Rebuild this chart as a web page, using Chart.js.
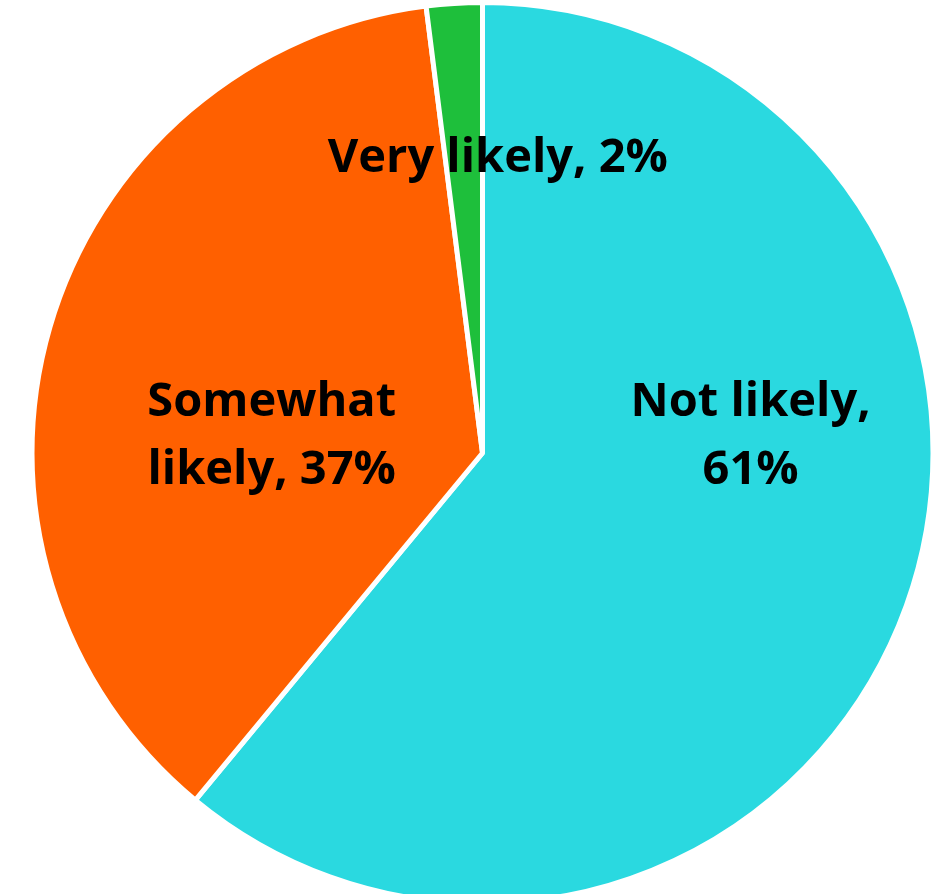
<!DOCTYPE html>
<html>
<head>
<meta charset="utf-8">
<script src="https://cdn.jsdelivr.net/npm/chart.js@4.4.1/dist/chart.umd.min.js"></script>
<style>
    html, body { margin: 0; padding: 0; background: #ffffff; overflow: hidden; }
    #wrap { width: 949px; height: 894px; position: relative; overflow: hidden; }
    #inner { width: 949px; height: 906px; position: absolute; left: 0; top: 0; }
</style>
</head>
<body>
<div id="wrap"><div id="inner"><canvas id="pie-chart"></canvas></div></div>
<script>
// Datos del gráfico
const categories = ['Not likely', 'Somewhat likely', 'Very likely'];
const values = [61, 37, 2];
const sliceColors = ['#2AD9E0', '#FF6000', '#1EBF3B'];

// Posición de cada etiqueta (fracción del radio desde el centro) y cortes de línea
const labelSpots = [
    { dx: 0.595, dy: -0.036, lines: ['Not likely,', '61%'] },
    { dx: -0.468, dy: -0.036, lines: ['Somewhat', 'likely, 37%'] },
    { dx: 0.034, dy: -0.654, lines: ['Very likely, 2%'] }
];

// Plugin para dibujar las etiquetas dentro de las porciones
const sliceLabels = {
    id: 'sliceLabels',
    afterDatasetsDraw(chart) {
        const ctx = chart.ctx;
        const arc = chart.getDatasetMeta(0).data[0];
        const cx = arc.x, cy = arc.y, r = arc.outerRadius;
        ctx.save();
        ctx.fillStyle = '#000000';
        ctx.font = 'bold 47px "Open Sans", "Noto Sans", sans-serif';
        ctx.textAlign = 'center';
        ctx.textBaseline = 'middle';
        labelSpots.forEach(spot => {
            const x = cx + spot.dx * r;
            const y = cy + spot.dy * r;
            const gap = 68;
            const top = y - (spot.lines.length - 1) * gap / 2;
            spot.lines.forEach((line, i) => ctx.fillText(line, x, top + i * gap));
        });
        ctx.restore();
    }
};

const ctx1 = document.getElementById('pie-chart').getContext('2d');
const pieChart = new Chart(ctx1, {
    type: 'pie',
    data: {
        labels: categories,
        datasets: [{
            data: values,
            backgroundColor: sliceColors,
            borderColor: '#ffffff',
            borderWidth: 5
        }]
    },
    options: {
        responsive: true,
        maintainAspectRatio: false,
        animation: false,
        layout: { padding: { left: 16, right: 0, top: 0, bottom: 0 } },
        plugins: {
            legend: { display: false },
            tooltip: { enabled: false }
        }
    },
    plugins: [sliceLabels]
});
</script>
</body>
</html>
